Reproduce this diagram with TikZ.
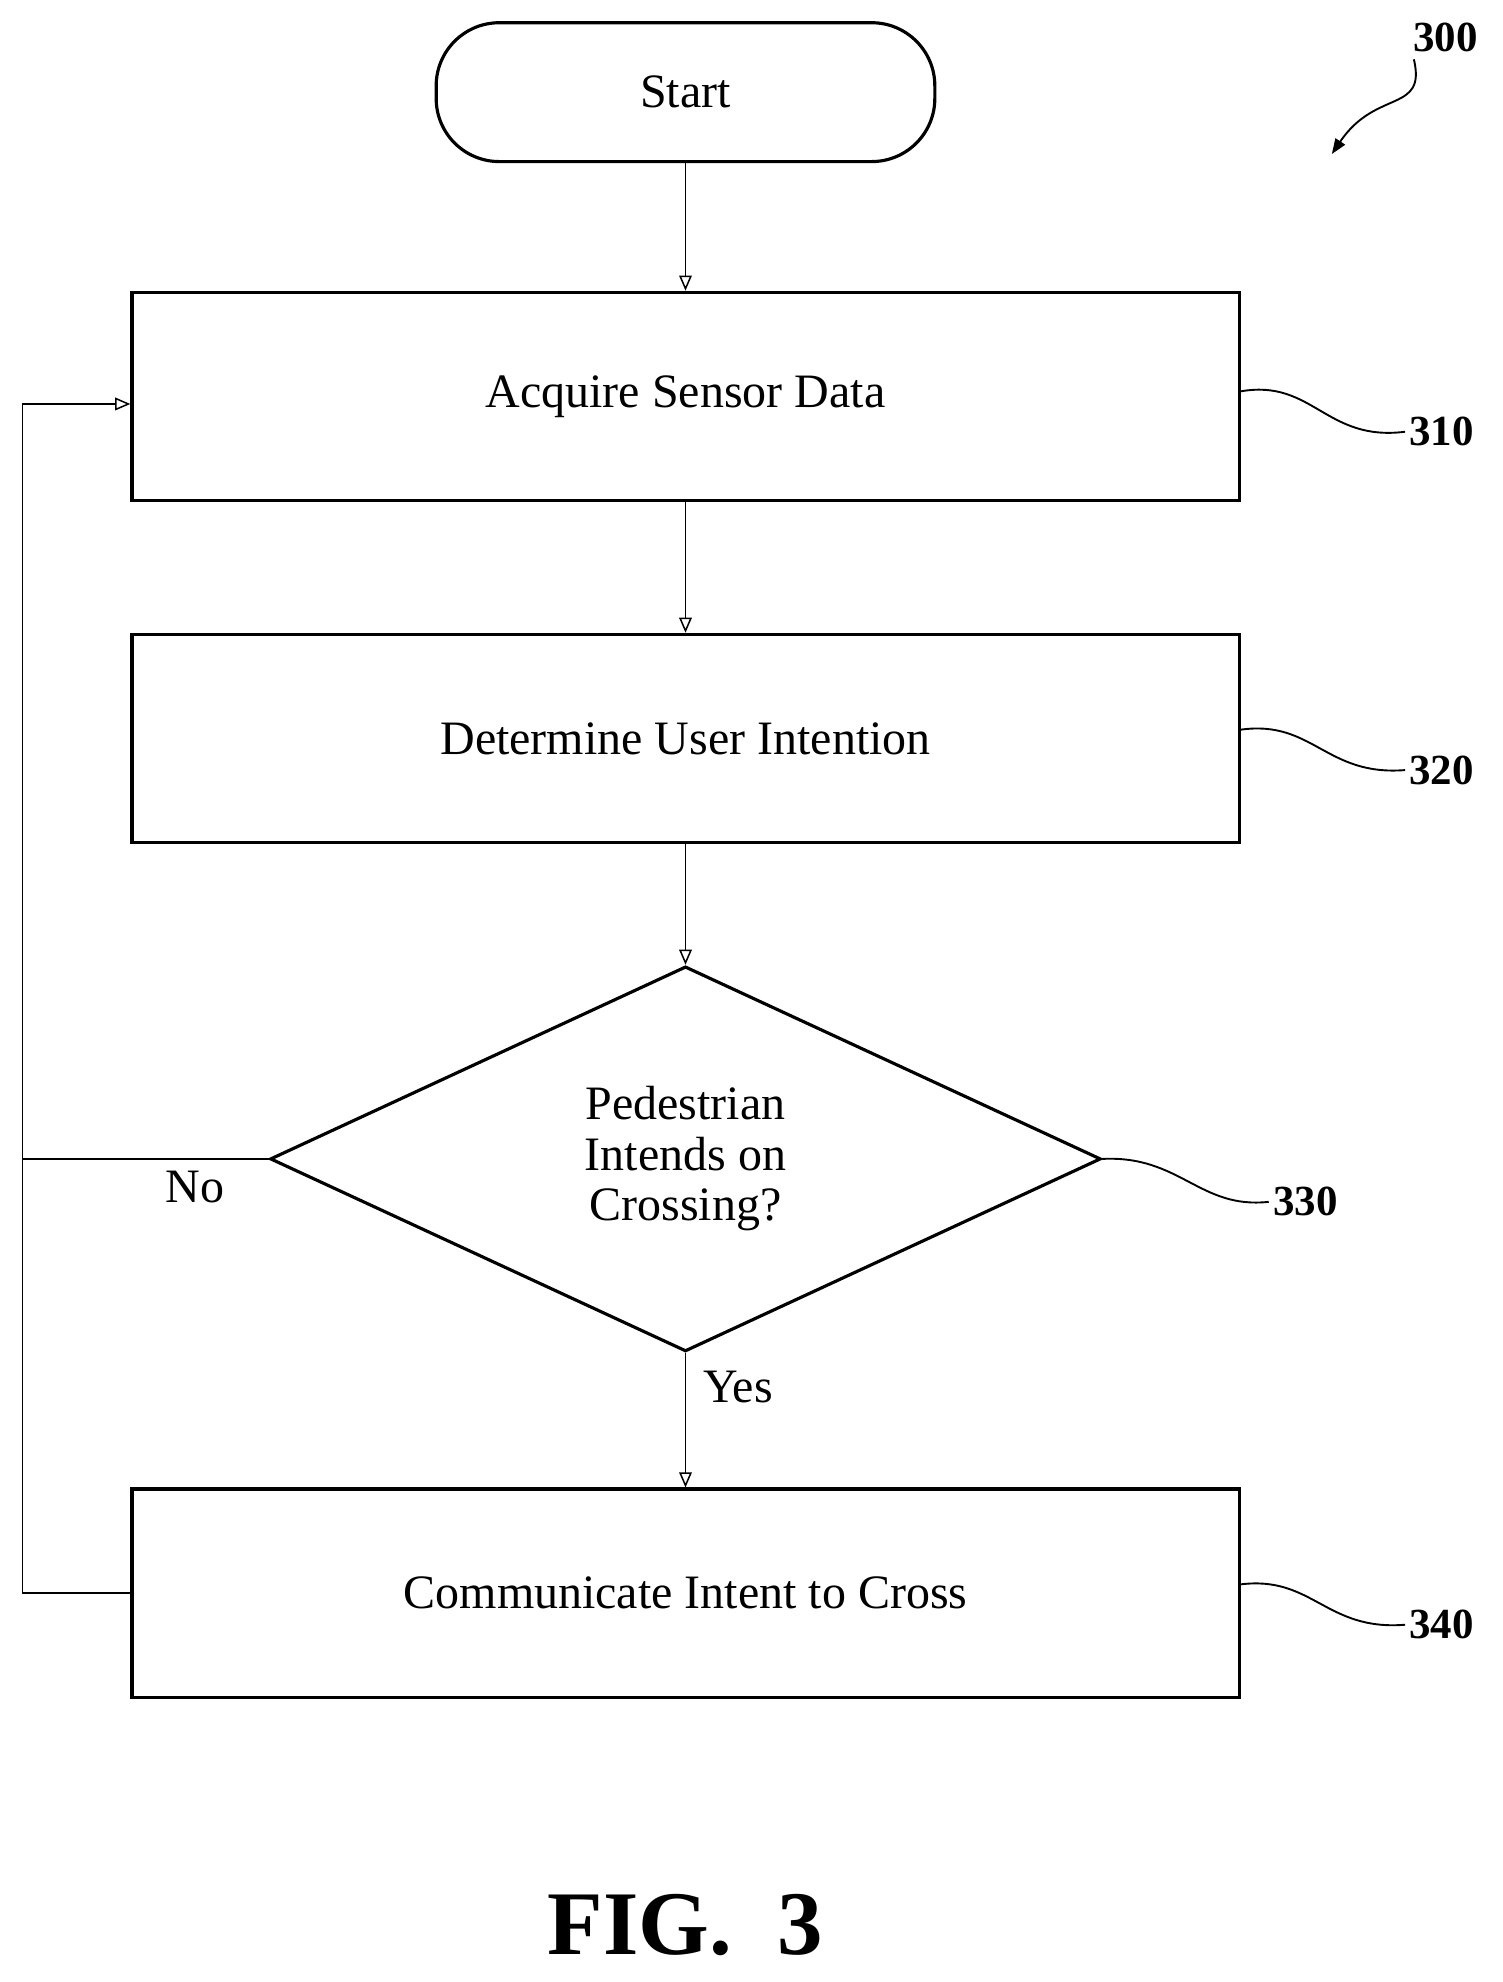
\documentclass[tikz,border=0pt]{standalone}
\usepackage{fontspec}
\setmainfont{Liberation Serif}
\usetikzlibrary{shapes.geometric,arrows.meta}

\begin{document}
\begin{tikzpicture}[x=1pt,y=-1pt,
        box/.style={draw,line width=2.5pt,minimum width=877pt,minimum height=165pt,font=\fontsize{38}{44}\selectfont},
        ref/.style={font=\fontsize{34}{40}\selectfont\bfseries},
        lead/.style={line width=1.5pt},
        flow/.style={line width=1.2pt,-{Triangle[open,length=12pt,width=10pt]}}]
        \useasboundingbox (0,0) rectangle (1190,1570);
        % shapes
        \node[box,rounded corners=50pt,minimum width=395pt,minimum height=110pt] (start) at (543,73) {Start};
        \node[box] (acq) at (543,314) {Acquire Sensor Data};
        \node[box] (det) at (543,585) {Determine User Intention};
        \node[draw,line width=2.5pt,diamond,aspect=2.16,minimum width=658pt,minimum height=305pt,inner sep=0pt,
              align=center,font=\fontsize{38}{40}\selectfont] (ped) at (543,918) {Pedestrian\\Intends on\\Crossing?};
        \node[box] (com) at (543,1262) {Communicate Intent to Cross};
        \coordinate (loopb) at (18,1262);
        \coordinate (loopt) at (18,320);
        \coordinate (loopm) at (18,918);

        \draw[flow] (start) -- (acq);
        \draw[flow] (acq) -- (det);
        \draw[flow] (det) -- (ped.north);
        \draw[flow] (ped.south) -- node[right=10pt,pos=0.25,font=\fontsize{38}{44}\selectfont] {Yes} (com);
        \draw[flow] (com.west) -- (loopb) -- (loopt) -- (acq.west |- loopt);
        \draw[line width=1.2pt] (ped.west) -- node[below=6pt,pos=0.3,font=\fontsize{38}{44}\selectfont] {No} (loopm);

        % reference numerals
        \node[ref] (r300) at (1145,30) {300};
        \node[ref] (r310) at (1142,342) {310};
        \node[ref] (r320) at (1142,610) {320};
        \node[ref] (r330) at (1034,952) {330};
        \node[ref] (r340) at (1142,1287) {340};
        \draw[lead,-{Triangle[length=12pt,width=9pt]}] (r300.south west) ++(4,2) .. controls (1130,90) and (1090,70) .. (1055,122);
        \draw[lead] (acq.east |- 0,310) .. controls (1040,300) and (1050,350) .. (r310.west);
        \draw[lead] (det.east |- 0,578) .. controls (1040,570) and (1050,615) .. (r320.west);
        \draw[lead] (ped.east) .. controls (935,915) and (950,958) .. (r330.west);
        \draw[lead] (com.east |- 0,1255) .. controls (1040,1248) and (1050,1292) .. (r340.west);

        \node[font=\fontsize{72}{80}\selectfont\bfseries] (fig) at (543,1525) {FIG.\ \ 3};
\end{tikzpicture}
\end{document}
